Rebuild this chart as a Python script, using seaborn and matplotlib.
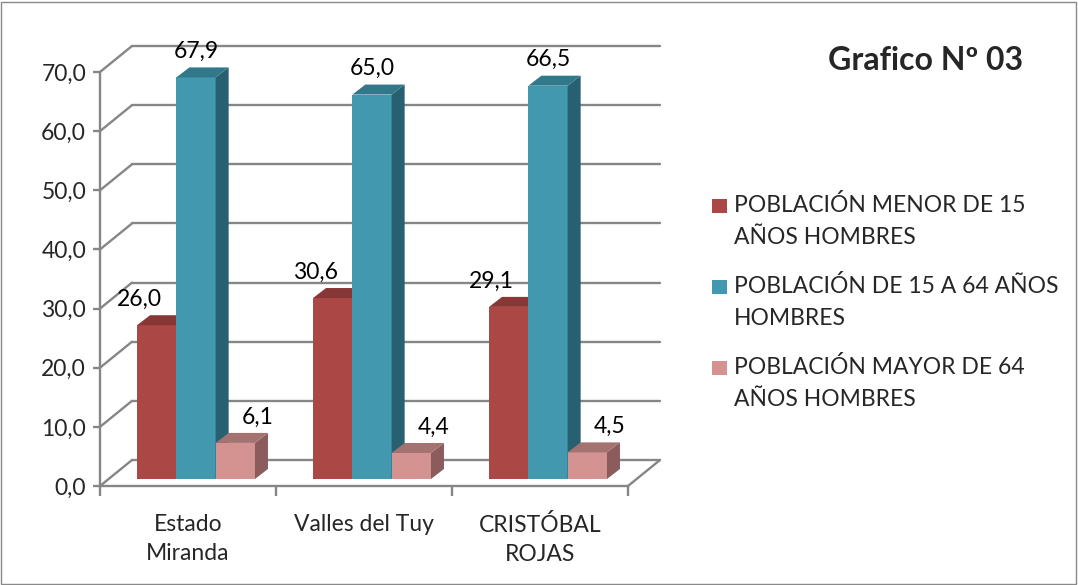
import pandas as pd
import matplotlib
matplotlib.use('Agg')
import matplotlib.pyplot as plt
import matplotlib.transforms as mtransforms
from matplotlib.patches import Polygon, Rectangle
from matplotlib.lines import Line2D
import seaborn as sns

# Datos del grafico
zonas = ['Estado\nMiranda', 'Valles del Tuy', 'CRISTÓBAL\nROJAS']
grupos = ['POBLACIÓN MENOR DE 15\nAÑOS HOMBRES',
          'POBLACIÓN DE 15 A 64 AÑOS\nHOMBRES',
          'POBLACIÓN MAYOR DE 64\nAÑOS HOMBRES']
menor_15 = [26.0, 30.6, 29.1]
de_15_a_64 = [67.9, 65.0, 66.5]
mayor_64 = [6.1, 4.4, 4.5]
titulo = 'Grafico Nº 03'

# colores: frente, lado, tapa
frente = ['#AB4744', '#4198AF', '#D49391']
lado = ['#7A302E', '#276070', '#8B5C5B']
tapa = ['#873735', '#31788A', '#A47270']
gris = '#868686'

df = pd.DataFrame({
    'zona': zonas * 3,
    'grupo': [g for g in grupos for _ in zonas],
    'valor': menor_15 + de_15_a_64 + mayor_64,
})

sns.set_theme(style='white')
plt.rcParams['font.family'] = ['Lato', 'DejaVu Sans']
fs = 16.5

W, H = 1078, 585
fig = plt.figure(figsize=(W / 100, H / 100), dpi=100)
ax = fig.add_axes([100 / W, (H - 486) / H, 528 / W, 414 / H])
ax.set_xlim(-0.5, 2.5)
ax.set_ylim(0, 70)
ax.patch.set_alpha(0)

# desplazamientos de la perspectiva (pixeles)
fondo = (32, 26)
prof_barra = (8, 7)
lado_barra = (13, 10)

def px(x, y, off=(0, 0)):
    p = ax.transData.transform((x, y))
    return (p[0] + off[0], p[1] + off[1])

ident = mtransforms.IdentityTransform()

# pared del fondo, pared lateral y piso
ticks = list(range(0, 71, 10))
for v in ticks:
    a, b = px(-0.5, v, fondo), px(2.5, v, fondo)
    ax.add_line(Line2D([a[0], b[0]], [a[1], b[1]], color=gris, lw=1.7,
                       transform=ident, zorder=1, clip_on=False))
    f = px(-0.5, v)
    ax.add_line(Line2D([f[0], a[0]], [f[1], a[1]], color=gris, lw=1.7,
                       transform=ident, zorder=1, clip_on=False))
f, a = px(2.5, 0), px(2.5, 0, fondo)
ax.add_line(Line2D([f[0], a[0]], [f[1], a[1]], color=gris, lw=1.7,
                   transform=ident, zorder=1, clip_on=False))

sns.barplot(data=df, x='zona', y='valor', hue='grupo', palette=frente,
            width=0.67, saturation=1, legend=False, ax=ax, linewidth=0)
ax.set_xlim(-0.5, 2.5)
ax.set_ylim(0, 70)

bar_tr = mtransforms.offset_copy(ax.transData, fig=fig, x=prof_barra[0],
                                 y=prof_barra[1], units='dots')
desp_label = [-17, 0, 22]
for p in list(ax.patches):
    if p.get_height() <= 0:
        continue
    c = matplotlib.colors.to_hex(p.get_facecolor()).upper()
    i = [k.upper() for k in frente].index(c)
    z = 3 + i
    p.set_transform(bar_tr)
    p.set_zorder(z)
    p.set_clip_on(False)
    x0, w, h = p.get_x(), p.get_width(), p.get_height()
    o = prof_barra
    d = (o[0] + lado_barra[0], o[1] + lado_barra[1])
    lado_pts = [px(x0 + w, 0, o), px(x0 + w, h, o), px(x0 + w, h, d), px(x0 + w, 0, d)]
    tapa_pts = [px(x0, h, o), px(x0 + w, h, o), px(x0 + w, h, d), px(x0, h, d)]
    ax.add_patch(Polygon(lado_pts, closed=True, facecolor=lado[i], lw=0,
                         transform=ident, zorder=z, clip_on=False))
    ax.add_patch(Polygon(tapa_pts, closed=True, facecolor=tapa[i], lw=0,
                         transform=ident, zorder=z, clip_on=False))
    ax.annotate(f'{h:.1f}'.replace('.', ','), xy=(x0 + w / 2, h), xycoords=bar_tr,
                xytext=(desp_label[i], 26), textcoords='offset pixels',
                ha='center', va='center', fontsize=fs, color='black', zorder=10)

# ejes frontales
for s in ['top', 'right']:
    ax.spines[s].set_visible(False)
for s in ['left', 'bottom']:
    ax.spines[s].set_color(gris)
    ax.spines[s].set_linewidth(1.7)
    ax.spines[s].set_zorder(9)
ax.set_yticks(ticks)
ax.set_yticklabels([f'{v:.1f}'.replace('.', ',') for v in ticks], fontsize=fs)
ax.set_xticks([-0.5, 0.5, 1.5, 2.5])
ax.set_xticklabels([])
ax.set_xticks([0, 1, 2], minor=True)
ax.set_xticklabels(zonas, minor=True, fontsize=fs)
for t in ax.get_xticklabels(minor=True):
    t.set_linespacing(1.5)
ax.tick_params(axis='y', left=True, length=5, width=1.7, color=gris, pad=5)
ax.tick_params(axis='x', which='major', bottom=True, length=7, width=1.7, color=gris)
ax.tick_params(axis='x', which='minor', bottom=False, length=0, pad=20)
ax.set_xlabel('')
ax.set_ylabel('')
ax.grid(False)

# leyenda
y_entradas = [212, 293, 374]
for i, g in enumerate(grupos):
    yb = y_entradas[i]
    fig.patches.append(Rectangle((712 / W, (H - yb - 1) / H), 15 / W, 14 / H,
                                 transform=fig.transFigure, facecolor=frente[i],
                                 lw=0))
    for j, linea in enumerate(g.split('\n')):
        fig.text(734 / W, (H - yb - 32 * j) / H, linea, fontsize=fs,
                 ha='left', va='baseline')

fig.text(828 / W, (H - 70) / H, titulo, fontsize=23, fontweight='bold',
         ha='left', va='baseline')

fig.patches.append(Rectangle((1 / W, 1 / H), (W - 3) / W, (H - 3) / H,
                             transform=fig.transFigure, fill=False,
                             edgecolor='#898989', lw=1))

fig.savefig('out.png', dpi=100)
